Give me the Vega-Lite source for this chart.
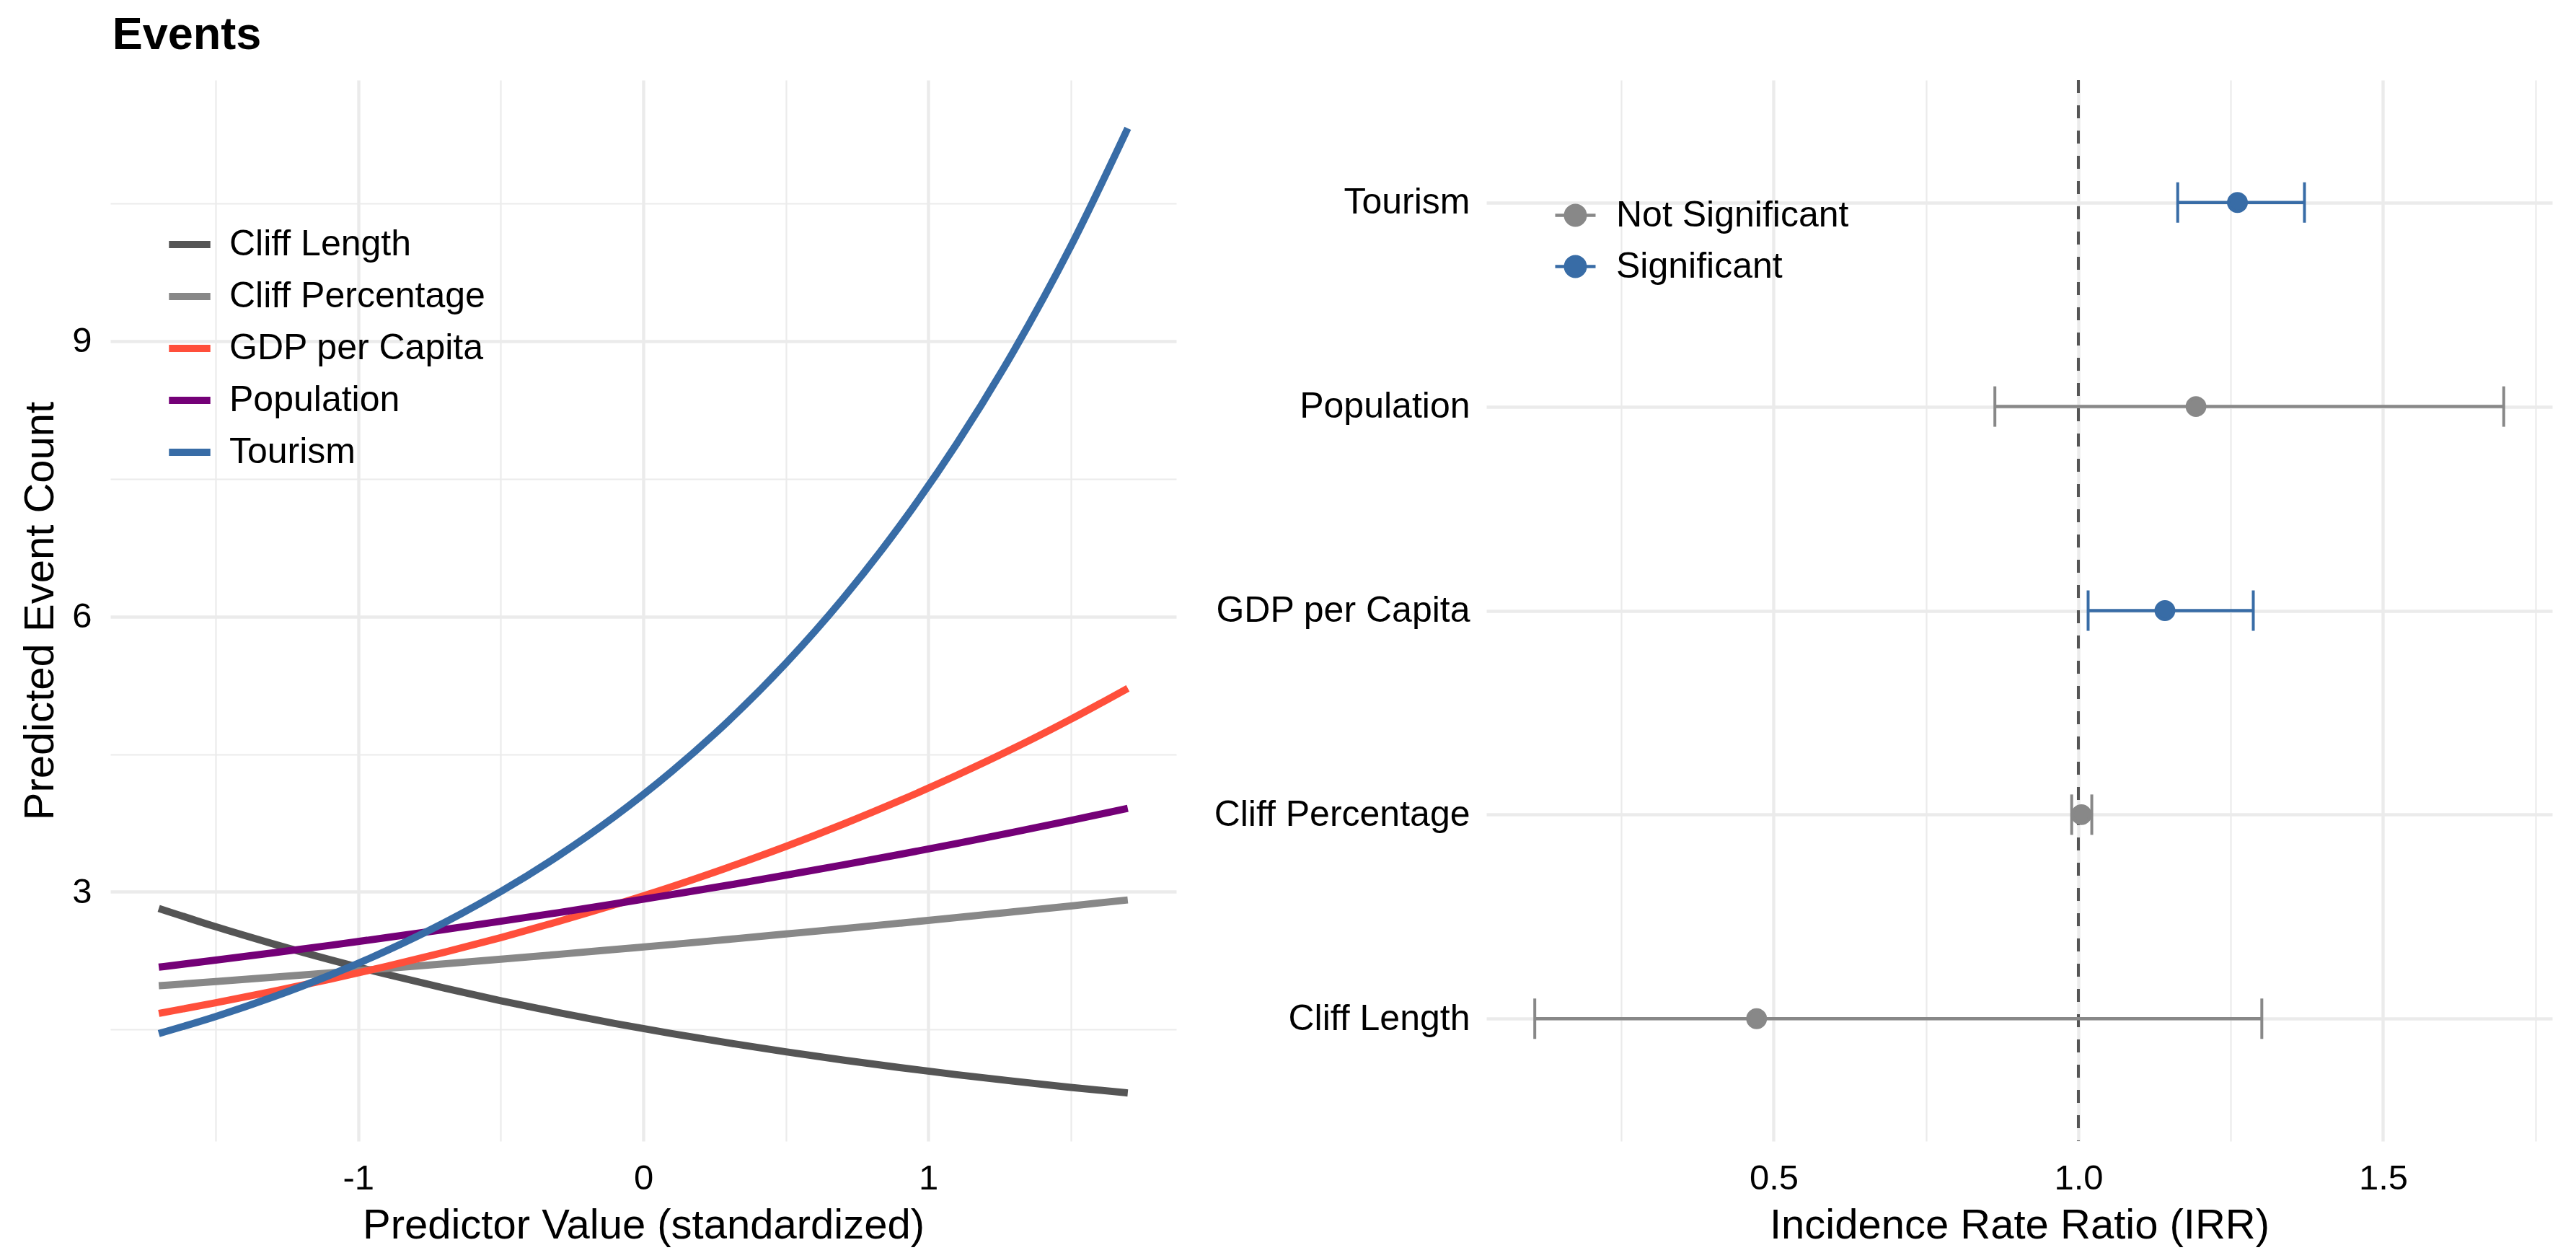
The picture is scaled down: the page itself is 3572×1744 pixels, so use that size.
{
  "$schema": "https://vega.github.io/schema/vega-lite/v6.json",
  "background": "white",
  "padding": {"left": 27, "top": 18, "right": 5, "bottom": 5},
  "title": {"text": "Events", "anchor": "start", "fontSize": 63, "fontWeight": "bold", "font": "Liberation Sans", "color": "#000000", "offset": 28, "dx": 128},
  "config": {
    "font": "Liberation Sans",
    "view": {"stroke": null},
    "axis": {"domain": false, "ticks": false, "tickSize": 0, "grid": true, "gridColor": "#EBEBEB", "labelColor": "#000000", "labelFontSize": 49, "labelFont": "Liberation Sans", "titleFont": "Liberation Sans", "titleFontSize": 58, "titleFontWeight": "normal", "titleColor": "#000000", "labelLimit": 1000},
    "legend": {"labelFontSize": 50, "labelColor": "#000000", "labelLimit": 1000, "padding": 0, "labelFont": "Liberation Sans"}
  },
  "spacing": 52,
  "resolve": {"scale": {"color": "independent", "x": "independent", "y": "independent"}, "legend": {"color": "independent"}},
  "hconcat": [
    {
      "width": 1478,
      "height": 1471,
      "data": {"values": [
        {"series": "Cliff Length", "x": -1.7, "y": 2.820}, {"series": "Cliff Length", "x": -1.5, "y": 2.620}, {"series": "Cliff Length", "x": -1.3, "y": 2.435}, {"series": "Cliff Length", "x": -1.1, "y": 2.262}, {"series": "Cliff Length", "x": -0.9, "y": 2.102}, {"series": "Cliff Length", "x": -0.7, "y": 1.954}, {"series": "Cliff Length", "x": -0.5, "y": 1.815}, {"series": "Cliff Length", "x": -0.3, "y": 1.687}, {"series": "Cliff Length", "x": -0.1, "y": 1.567}, {"series": "Cliff Length", "x": 0.1, "y": 1.457}, {"series": "Cliff Length", "x": 0.3, "y": 1.354}, {"series": "Cliff Length", "x": 0.5, "y": 1.258}, {"series": "Cliff Length", "x": 0.7, "y": 1.169}, {"series": "Cliff Length", "x": 0.9, "y": 1.086}, {"series": "Cliff Length", "x": 1.1, "y": 1.009}, {"series": "Cliff Length", "x": 1.3, "y": 0.938}, {"series": "Cliff Length", "x": 1.5, "y": 0.871}, {"series": "Cliff Length", "x": 1.7, "y": 0.810},
        {"series": "Cliff Percentage", "x": -1.7, "y": 1.978}, {"series": "Cliff Percentage", "x": -1.5, "y": 2.023}, {"series": "Cliff Percentage", "x": -1.3, "y": 2.070}, {"series": "Cliff Percentage", "x": -1.1, "y": 2.118}, {"series": "Cliff Percentage", "x": -0.9, "y": 2.166}, {"series": "Cliff Percentage", "x": -0.7, "y": 2.216}, {"series": "Cliff Percentage", "x": -0.5, "y": 2.267}, {"series": "Cliff Percentage", "x": -0.3, "y": 2.319}, {"series": "Cliff Percentage", "x": -0.1, "y": 2.373}, {"series": "Cliff Percentage", "x": 0.1, "y": 2.427}, {"series": "Cliff Percentage", "x": 0.3, "y": 2.483}, {"series": "Cliff Percentage", "x": 0.5, "y": 2.541}, {"series": "Cliff Percentage", "x": 0.7, "y": 2.599}, {"series": "Cliff Percentage", "x": 0.9, "y": 2.659}, {"series": "Cliff Percentage", "x": 1.1, "y": 2.720}, {"series": "Cliff Percentage", "x": 1.3, "y": 2.783}, {"series": "Cliff Percentage", "x": 1.5, "y": 2.847}, {"series": "Cliff Percentage", "x": 1.7, "y": 2.912},
        {"series": "GDP per Capita", "x": -1.7, "y": 1.676}, {"series": "GDP per Capita", "x": -1.5, "y": 1.792}, {"series": "GDP per Capita", "x": -1.3, "y": 1.916}, {"series": "GDP per Capita", "x": -1.1, "y": 2.048}, {"series": "GDP per Capita", "x": -0.9, "y": 2.189}, {"series": "GDP per Capita", "x": -0.7, "y": 2.341}, {"series": "GDP per Capita", "x": -0.5, "y": 2.502}, {"series": "GDP per Capita", "x": -0.3, "y": 2.675}, {"series": "GDP per Capita", "x": -0.1, "y": 2.860}, {"series": "GDP per Capita", "x": 0.1, "y": 3.057}, {"series": "GDP per Capita", "x": 0.3, "y": 3.269}, {"series": "GDP per Capita", "x": 0.5, "y": 3.494}, {"series": "GDP per Capita", "x": 0.7, "y": 3.736}, {"series": "GDP per Capita", "x": 0.9, "y": 3.994}, {"series": "GDP per Capita", "x": 1.1, "y": 4.270}, {"series": "GDP per Capita", "x": 1.3, "y": 4.564}, {"series": "GDP per Capita", "x": 1.5, "y": 4.880}, {"series": "GDP per Capita", "x": 1.7, "y": 5.217},
        {"series": "Population", "x": -1.7, "y": 2.180}, {"series": "Population", "x": -1.5, "y": 2.257}, {"series": "Population", "x": -1.3, "y": 2.336}, {"series": "Population", "x": -1.1, "y": 2.417}, {"series": "Population", "x": -0.9, "y": 2.502}, {"series": "Population", "x": -0.7, "y": 2.589}, {"series": "Population", "x": -0.5, "y": 2.680}, {"series": "Population", "x": -0.3, "y": 2.773}, {"series": "Population", "x": -0.1, "y": 2.870}, {"series": "Population", "x": 0.1, "y": 2.971}, {"series": "Population", "x": 0.3, "y": 3.074}, {"series": "Population", "x": 0.5, "y": 3.182}, {"series": "Population", "x": 0.7, "y": 3.293}, {"series": "Population", "x": 0.9, "y": 3.408}, {"series": "Population", "x": 1.1, "y": 3.527}, {"series": "Population", "x": 1.3, "y": 3.651}, {"series": "Population", "x": 1.5, "y": 3.778}, {"series": "Population", "x": 1.7, "y": 3.910},
        {"series": "Tourism", "x": -1.7, "y": 1.457}, {"series": "Tourism", "x": -1.5, "y": 1.643}, {"series": "Tourism", "x": -1.3, "y": 1.854}, {"series": "Tourism", "x": -1.1, "y": 2.092}, {"series": "Tourism", "x": -0.9, "y": 2.360}, {"series": "Tourism", "x": -0.7, "y": 2.662}, {"series": "Tourism", "x": -0.5, "y": 3.003}, {"series": "Tourism", "x": -0.3, "y": 3.388}, {"series": "Tourism", "x": -0.1, "y": 3.822}, {"series": "Tourism", "x": 0.1, "y": 4.312}, {"series": "Tourism", "x": 0.3, "y": 4.865}, {"series": "Tourism", "x": 0.5, "y": 5.489}, {"series": "Tourism", "x": 0.7, "y": 6.192}, {"series": "Tourism", "x": 0.9, "y": 6.986}, {"series": "Tourism", "x": 1.1, "y": 7.882}, {"series": "Tourism", "x": 1.3, "y": 8.892}, {"series": "Tourism", "x": 1.5, "y": 10.031}, {"series": "Tourism", "x": 1.7, "y": 11.317}
      ]},
      "layer": [
        {
          "mark": {"type": "line", "opacity": 0, "interpolate": "monotone"},
          "encoding": {
            "x": {"field": "x", "type": "quantitative", "scale": {"domain": [-1.87, 1.87], "nice": false, "zero": false},
                  "axis": {"orient": "top", "values": [-1.5, -0.5, 0.5, 1.5], "labels": false, "title": null, "grid": true, "gridWidth": 2.2}},
            "y": {"field": "y", "type": "quantitative", "scale": {"domain": [0.285, 11.842], "nice": false, "zero": false},
                  "axis": {"orient": "right", "values": [1.5, 4.5, 7.5, 10.5], "labels": false, "title": null, "grid": true, "gridWidth": 2.2}},
            "detail": {"field": "series", "type": "nominal"}
          }
        },
        {
          "mark": {"type": "line", "strokeWidth": 10, "interpolate": "monotone"},
          "encoding": {
            "x": {"field": "x", "type": "quantitative", "scale": {"domain": [-1.87, 1.87], "nice": false, "zero": false},
                  "axis": {"orient": "bottom", "values": [-1, 0, 1], "labelExpr": "datum.value + ''", "title": "Predictor Value (standardized)", "grid": true, "gridWidth": 4.4, "labelPadding": 27, "titlePadding": 12}},
            "y": {"field": "y", "type": "quantitative", "scale": {"domain": [0.285, 11.842], "nice": false, "zero": false},
                  "axis": {"orient": "left", "values": [3, 6, 9], "title": "Predicted Event Count", "grid": true, "gridWidth": 4.4, "labelPadding": 26, "titlePadding": 14}},
            "color": {"field": "series", "type": "nominal",
                      "scale": {"domain": ["Cliff Length", "Cliff Percentage", "GDP per Capita", "Population", "Tourism"], "range": ["#555555", "#888888", "#FF4F3B", "#740077", "#386CA6"]},
                      "legend": {"title": null, "orient": "none", "legendX": 76, "legendY": 194, "symbolType": "stroke", "symbolSize": 3300, "symbolStrokeWidth": 10, "labelFontSize": 50, "labelOffset": 21, "rowPadding": 13}}
          }
        }
      ]
    },
    {
      "width": 1478,
      "height": 1471,
      "data": {"values": [
        {"term": "Tourism", "irr": 1.261, "lo": 1.163, "hi": 1.371, "sig": "Significant"},
        {"term": "Population", "irr": 1.193, "lo": 0.863, "hi": 1.698, "sig": "Not Significant"},
        {"term": "GDP per Capita", "irr": 1.142, "lo": 1.016, "hi": 1.287, "sig": "Significant"},
        {"term": "Cliff Percentage", "irr": 1.005, "lo": 0.989, "hi": 1.022, "sig": "Not Significant"},
        {"term": "Cliff Length", "irr": 0.472, "lo": 0.108, "hi": 1.301, "sig": "Not Significant"}
      ]},
      "layer": [
        {
          "mark": {"type": "point", "opacity": 0},
          "encoding": {
            "x": {"field": "irr", "type": "quantitative", "scale": {"domain": [0.0285, 1.7775], "nice": false, "zero": false},
                  "axis": {"orient": "top", "values": [0.25, 0.75, 1.25, 1.75], "labels": false, "title": null, "grid": true, "gridWidth": 2.2}},
            "y": {"field": "term", "type": "nominal", "scale": {"type": "point", "padding": 0.6, "domain": ["Tourism", "Population", "GDP per Capita", "Cliff Percentage", "Cliff Length"]},
                  "axis": {"orient": "left", "title": null, "grid": true, "gridWidth": 4.4, "labelPadding": 23, "labelFontSize": 50}}
          }
        },
        {
          "data": {"values": [{"ref": 1}]},
          "mark": {"type": "rule", "strokeDash": [18, 17], "strokeWidth": 4, "color": "#555555"},
          "encoding": {
            "x": {"field": "ref", "type": "quantitative", "scale": {"domain": [0.0285, 1.7775], "nice": false, "zero": false}, "axis": null}
          }
        },
        {
          "mark": {"type": "rule", "strokeWidth": 4.5},
          "encoding": {
            "x": {"field": "lo", "type": "quantitative", "scale": {"domain": [0.0285, 1.7775], "nice": false, "zero": false}, "axis": null},
            "x2": {"field": "hi"},
            "y": {"field": "term", "type": "nominal", "scale": {"type": "point", "padding": 0.6, "domain": ["Tourism", "Population", "GDP per Capita", "Cliff Percentage", "Cliff Length"]},
                  "axis": {"orient": "left", "title": null, "grid": true, "gridWidth": 4.4, "labelPadding": 23, "labelFontSize": 50}},
            "color": {"field": "sig", "type": "nominal", "scale": {"domain": ["Not Significant", "Significant"], "range": ["#888888", "#386CA6"]}, "legend": null}
          }
        },
        {
          "mark": {"type": "tick", "size": 56, "thickness": 4, "opacity": 1, "orient": "vertical"},
          "encoding": {
            "x": {"field": "lo", "type": "quantitative", "scale": {"domain": [0.0285, 1.7775], "nice": false, "zero": false}, "axis": null},
            "y": {"field": "term", "type": "nominal", "scale": {"type": "point", "padding": 0.6, "domain": ["Tourism", "Population", "GDP per Capita", "Cliff Percentage", "Cliff Length"]},
                  "axis": {"orient": "left", "title": null, "grid": true, "gridWidth": 4.4, "labelPadding": 23, "labelFontSize": 50}},
            "color": {"field": "sig", "type": "nominal", "scale": {"domain": ["Not Significant", "Significant"], "range": ["#888888", "#386CA6"]}, "legend": null}
          }
        },
        {
          "mark": {"type": "tick", "size": 56, "thickness": 4, "opacity": 1, "orient": "vertical"},
          "encoding": {
            "x": {"field": "hi", "type": "quantitative", "scale": {"domain": [0.0285, 1.7775], "nice": false, "zero": false}, "axis": null},
            "y": {"field": "term", "type": "nominal", "scale": {"type": "point", "padding": 0.6, "domain": ["Tourism", "Population", "GDP per Capita", "Cliff Percentage", "Cliff Length"]},
                  "axis": {"orient": "left", "title": null, "grid": true, "gridWidth": 4.4, "labelPadding": 23, "labelFontSize": 50}},
            "color": {"field": "sig", "type": "nominal", "scale": {"domain": ["Not Significant", "Significant"], "range": ["#888888", "#386CA6"]}, "legend": null}
          }
        },
        {
          "mark": {"type": "point", "shape": "circle", "filled": true, "size": 594, "strokeWidth": 4.5, "opacity": 1},
          "encoding": {
            "x": {"field": "irr", "type": "quantitative", "scale": {"domain": [0.0285, 1.7775], "nice": false, "zero": false},
                  "axis": {"orient": "bottom", "values": [0.5, 1, 1.5], "format": ".1f", "title": "Incidence Rate Ratio (IRR)", "grid": true, "gridWidth": 4.4, "labelPadding": 27, "titlePadding": 12}},
            "y": {"field": "term", "type": "nominal", "scale": {"type": "point", "padding": 0.6, "domain": ["Tourism", "Population", "GDP per Capita", "Cliff Percentage", "Cliff Length"]},
                  "axis": {"orient": "left", "title": null, "grid": true, "gridWidth": 4.4, "labelPadding": 23, "labelFontSize": 50}},
            "fill": {"field": "sig", "type": "nominal", "scale": {"domain": ["Not Significant", "Significant"], "range": ["#888888", "#386CA6"]},
                     "legend": {"title": null, "orient": "none", "legendX": 2001, "legendY": 157, "symbolType": "M-1,0L1,0M-0.49,0A0.49,0.49,0,1,1,0.49,0A0.49,0.49,0,1,1,-0.49,0Z", "symbolSize": 3136, "symbolStrokeWidth": 4.5, "labelFontSize": 50, "labelOffset": 26, "rowPadding": 15}},
            "stroke": {"field": "sig", "type": "nominal", "scale": {"domain": ["Not Significant", "Significant"], "range": ["#888888", "#386CA6"]},
                     "legend": {"title": null, "orient": "none", "legendX": 2001, "legendY": 157, "symbolType": "M-1,0L1,0M-0.49,0A0.49,0.49,0,1,1,0.49,0A0.49,0.49,0,1,1,-0.49,0Z", "symbolSize": 3136, "symbolStrokeWidth": 4.5, "labelFontSize": 50, "labelOffset": 26, "rowPadding": 15}}
          }
        }
      ]
    }
  ]
}
